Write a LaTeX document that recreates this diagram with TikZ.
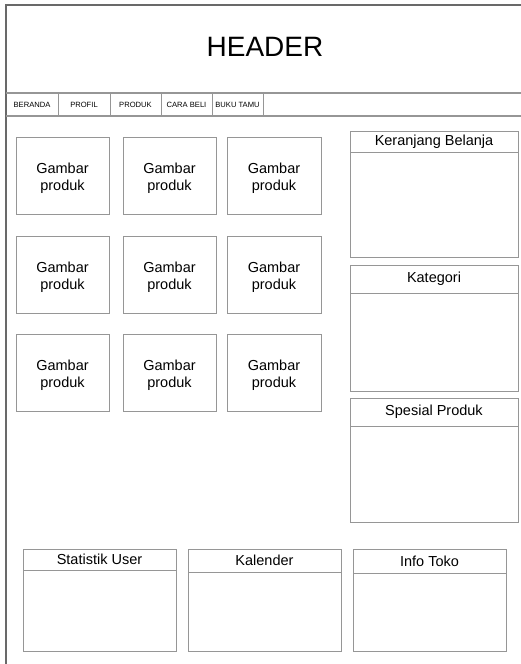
\documentclass[tikz,border=0pt]{standalone}
\usepackage{fontspec}
\setmainfont{Liberation Sans}
\definecolor{framecol}{RGB}{105,105,105}
\definecolor{boxcol}{RGB}{150,150,150}
\begin{document}
\begin{tikzpicture}[x=1pt,y=-1pt,
  frame/.style={draw=framecol,line width=1.2pt},
  box/.style={draw=boxcol,line width=1pt,inner sep=0pt,outer sep=0pt,anchor=north west,align=center},
  navtext/.style={font=\fontsize{7.6}{9}\selectfont,inner sep=0pt},
  gbox/.style={box,minimum width=93pt,minimum height=77pt},
  gtext/.style={font=\fontsize{14.5}{16.5}\selectfont,align=center,inner sep=0pt},
  ttl/.style={box,font=\fontsize{14.5}{16.5}\selectfont}
]
\useasboundingbox (0,0) rectangle (521,664);
% outer frame
\coordinate (tl) at (6,5);
\coordinate (tr) at (521,5);
\coordinate (bl) at (6,664);
\draw[frame] (bl) -- (tl) -- (tr);
\coordinate (h1l) at (6,93);
\coordinate (h1r) at (521,93);
\coordinate (h2l) at (6,116);
\coordinate (h2r) at (521,116);
\draw[draw=boxcol,line width=1.1pt] (h1l) -- (h1r);
\draw[draw=boxcol,line width=1.1pt] (h2l) -- (h2r);
\node[font=\fontsize{28}{32}\selectfont,inner sep=0pt] (header) at (265,47) {HEADER};
% nav dividers
\foreach \x [count=\i] in {58,110,161,212,263}{
  \coordinate (d\i t) at (\x,93);
  \coordinate (d\i b) at (\x,116);
  \draw[draw=boxcol,line width=1pt] (d\i t) -- (d\i b);
}
\node[navtext] (nav1) at (32,105) {BERANDA};
\node[navtext] (nav2) at (84,105) {PROFIL};
\node[navtext] (nav3) at (135.5,105) {PRODUK};
\node[navtext] (nav4) at (186.5,105) {CARA BELI};
\node[navtext] (nav5) at (237.5,105) {BUKU TAMU};
% product grid
\foreach \r/\y in {1/137,2/236,3/334}{
  \node[gbox] (g\r a) at (16,\y) {};
  \node[gbox] (g\r b) at (123,\y) {};
  \node[gbox,minimum width=94pt] (g\r c) at (227,\y) {};
  \foreach \c in {a,b,c}{
    \node[gtext] (t\r\c) at ([yshift=-2.5pt]g\r\c.center) {Gambar\\produk};
  }
}
% right panels
\node[ttl,minimum width=168pt,minimum height=21pt] (kert) at (350,131) {Keranjang Belanja};
\node[box,minimum width=168pt,minimum height=105pt] (kerb) at (350,152) {};
\node[ttl,minimum width=168pt,minimum height=28pt] (katt) at (350,265) {Kategori};
\node[box,minimum width=168pt,minimum height=98pt] (katb) at (350,293) {};
\node[ttl,minimum width=168pt,minimum height=28pt] (spt) at (350,398) {Spesial Produk};
\node[box,minimum width=168pt,minimum height=96pt] (spb) at (350,426) {};
% bottom panels
\node[ttl,minimum width=153pt,minimum height=21pt] (stt) at (23,549) {Statistik User};
\node[box,minimum width=153pt,minimum height=81pt] (stb) at (23,570) {};
\node[ttl,minimum width=153pt,minimum height=23pt] (kalt) at (188,549) {Kalender};
\node[box,minimum width=153pt,minimum height=79pt] (kalb) at (188,572) {};
\node[ttl,minimum width=153pt,minimum height=24pt] (inft) at (353,549) {Info Toko};
\node[box,minimum width=153pt,minimum height=78pt] (infb) at (353,573) {};
\end{tikzpicture}
\end{document}
